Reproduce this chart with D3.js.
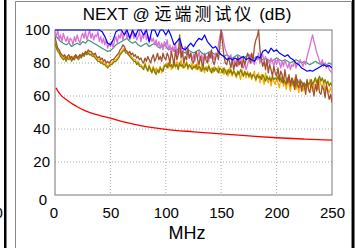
<!DOCTYPE html>
<html>
<head>
<meta charset="utf-8">
<script src="https://cdn.jsdelivr.net/npm/d3@7"></script>
<style>
  body { margin: 0; background: #fff; }
  svg { display: block; font-family: "Liberation Sans", Arial, sans-serif; }
</style>
</head>
<body>
<svg id="chart" width="355" height="248"></svg>
<script>
// sample grids of the measured traces (MHz)
const freqCoarse = d3.range(0, 250.01, 2.5);
const freqFine = d3.range(0, 250.01, 1.25);

// 2.5 MHz grid
const blue = [100,100,100,100,100,100,100,100,100,100,100,100,100,100,100,100,100,99,96,92,
  91,94,99,100,100,97,100,95,100,96,100,100,97,100,93,100,100,96,100,100,
  97,100,96,91,93,95,89,88,90,92,90,93,95,94,97,93,91,89,90,87,
  85,84,82,83,82,83,82,83,84,82,83,82,81,84,83,87,88,86,89,87,
  88,86,85,84,85,83,82,80,79,77,76,75,75.5,75,76,77,78,79,78,78.5,77];

const teal = [97,95,93,92,91,92,90,91,92,91,93,92,94,93,92,91,90,89,88,87,
  87.5,89,91,92,93,94,95,93,92,93,91,90,91,92,90,91,92,90,89,91,
  90,88,89,87,88,89,87,86,88,87,86,87,88,86,85,86,87,86,85,86,
  85,84,85,84,83,84,85,84,83,84,85,84,83,82,83,82,83,82,81,82,
  83,82,81,82,81,80,81,82,81,80,81,80,79,80,81,80,79,80,79,80,79];

// 1.25 MHz grid
const pink = [99,96,100,94,97,93,98,95,93,96,92,95,94,91,96,93,97,94,92,96,
  98,95,99,94,97,100,95,98,94,97,96,99,93,96,92,95,91,94,89,92,
  90,93,89,94,96,92,97,95,99,94,97,100,95,98,94,97,99,95,98,94,
  96,99,93,97,95,100,94,97,92,96,93,95,91,94,90,93,89,92,88,93,
  90,94,88,91,86,90,87,92,85,89,86,91,84,88,90,85,87,83,86,82,
  85,81,86,83,87,82,85,80,86,83,84,81,87,83,85,82,86,84,91,96,
  100,97,92,88,86,84,82,85,80,83,79,82,78,81,84,79,77,80,76,79,
  82,85,80,83,79,84,82,86,80,83,85,81,84,80,82,79,83,81,78,82,
  79,83,80,77,81,78,82,79,77,80,76,79,78,81,77,80,79,82,80,78,
  81,79,84,87,90,94,97,93,90,86,84,81,79,82,78,80,77,79,76,75,
  74];

const orange = [93,90,88,87,85,84,83,84,82,84,83,84,82,84,83,85,84,83,85,84,
  86,85,87,86,87,86,86,85,85,84,83,82,82,81,81,80,80,79,78,79,
  80,80,81,82,82,83,84,86,87,88,89,87,87,86,85,84,83,82,82,80,
  81,79,79,78,77,80,77,76,79,75,76,78,74,77,75,76,78,74,77,79,
  78,80,77,81,76,79,80,77,81,78,79,82,77,80,78,81,76,79,77,80,
  77,79,76,80,78,75,79,77,74,78,76,79,75,77,74,78,76,75,78,74,
  74,77,73,76,75,72,77,74,72,76,73,71,75,73,70,76,72,74,71,75,
  71,74,70,73,75,69,72,74,68,73,71,67,74,70,68,72,66,71,69,67,
  71,68,65,70,72,66,69,64,70,67,63,69,66,71,64,67,62,68,65,63,
  67,64,69,65,70,66,63,68,71,66,64,70,67,65,69,63,66,64,62,65,
  63];

const olive = [92,89,87,86,84,83,82,83,81,83,82,83,81,83,82,84,83,82,84,83,
  85,84,86,85,86,85,85,84,84,83,82,81,81,80,80,79,79,78,77,78,
  79,79,80,81,81,82,83,85,86,87,88,86,86,85,84,83,82,81,81,79,
  80,78,78,77,76,79,77,75,78,76,74,77,75,73,76,74,77,76,75,78,
  79,77,80,78,79,77,80,78,79,76,80,78,79,77,78,80,77,79,78,76,
  78,77,79,76,78,77,75,78,76,77,75,78,76,74,77,75,77,76,74,77,
  76,74,77,75,73,76,74,76,73,75,74,72,75,73,76,74,72,75,73,74,
  72,74,71,73,72,70,73,71,72,70,73,71,69,72,70,71,69,72,70,71,
  70,72,69,71,68,70,69,67,71,69,68,70,67,69,66,70,68,67,69,66,
  68,66,69,67,68,70,67,69,71,68,70,72,69,71,68,70,67,69,66,68,
  66];

const brown = [96,92,89,88,86,85,84,85,83,84,85,83,84,82,84,85,83,84,85,84,
  86,85,87,86,88,87,87,86,85,86,84,83,84,82,83,81,82,80,81,80,
  81,82,82,83,84,85,86,88,89,91,90,88,87,86,87,85,86,84,85,83,
  84,82,83,81,80,83,81,84,82,80,83,85,81,83,86,82,84,81,86,83,
  82,86,84,80,87,83,79,88,82,85,97,83,87,80,84,82,89,83,86,81,
  80,85,87,82,79,84,80,78,85,82,80,86,83,88,81,79,83,86,82,90,
  100,92,84,80,79,83,81,77,82,76,80,78,84,79,81,77,83,79,82,86,
  84,80,86,82,90,94,96,100,88,82,78,81,76,82,74,79,76,72,78,74,
  72,77,70,75,73,68,76,70,68,73,66,71,69,64,73,67,65,70,63,68,
  66,61,70,64,62,68,65,60,67,63,70,62,61,66,64,59,67,62,58,61,
  56];

// limit line
const limitFreq = [1,2,3,4,6,8,10,13,16,20,25,31,40,50,62,75,90,100,125,150,175,200,225,250];
const limitVal = [65,63.6,62.5,61.6,60.1,58.9,57.9,56.4,55.1,53.5,51.7,50.1,48.3,46.6,44.3,42.4,40.7,39.8,38.3,37.0,35.8,34.7,33.9,33.2];

const xTicks = [0, 50, 100, 150, 200, 250];
const yTicks = [0, 20, 40, 60, 80, 100];

const traces = [
  {name: "teal", values: teal, freq: freqCoarse, color: "#3a9a6c", w: 1.2},
  {name: "pink", values: pink, freq: freqFine, color: "#da70d6", w: 1.3},
  {name: "orange", values: orange, freq: freqFine, color: "#ffa500", w: 1.3},
  {name: "olive", values: olive, freq: freqFine, color: "#808000", w: 1.3},
  {name: "brown", values: brown, freq: freqFine, color: "#a0522d", w: 1.3},
  {name: "blue", values: blue, freq: freqCoarse, color: "#0000ff", w: 1.2}
];

const margin = {left: 55, right: 23, top: 30, bottom: 53};
const svg = d3.select("#chart");
const W = +svg.attr("width"), H = +svg.attr("height");
const width = W - margin.left - margin.right;
const height = H - margin.top - margin.bottom;

// surrounding window frame
svg.append("rect").attr("x", 4).attr("y", 0).attr("width", 2.5).attr("height", H).attr("fill", "#000");
svg.append("rect").attr("x", 352).attr("y", 0).attr("width", 2.5).attr("height", H).attr("fill", "#000");
svg.append("path")
  .attr("d", `M15.5,${H} V1.5 H351.5 V${H}`)
  .attr("fill", "none").attr("stroke", "#888").attr("stroke-width", 1);
svg.append("text").text("0")
  .attr("x", -5.5).attr("y", 217.5)
  .attr("font-size", 15).attr("fill", "#000");

const x = d3.scaleLinear().domain([0, 250]).range([0, width]);
const y = d3.scaleLinear().domain([0, 100]).range([height, 0]);

const g = svg.append("g").attr("transform", `translate(${margin.left},${margin.top})`);

g.append("defs").append("clipPath").attr("id", "clip")
  .append("rect").attr("x", 0).attr("y", -1).attr("width", width).attr("height", height + 1);

// dotted grid
g.append("g")
  .selectAll("line")
  .data(xTicks.slice(1, -1))
  .join("line")
  .attr("x1", d => x(d)).attr("x2", d => x(d))
  .attr("y1", 0).attr("y2", height)
  .attr("stroke", "#aaa").attr("stroke-dasharray", "1,2");
g.append("g")
  .selectAll("line")
  .data(yTicks.slice(1, -1))
  .join("line")
  .attr("y1", d => y(d)).attr("y2", d => y(d))
  .attr("x1", 0).attr("x2", width)
  .attr("stroke", "#aaa").attr("stroke-dasharray", "1,2");

// box
g.append("rect")
  .attr("x", 0).attr("y", 0).attr("width", width).attr("height", height)
  .attr("fill", "none").attr("stroke", "#777").attr("stroke-width", 1);

const plot = g.append("g").attr("clip-path", "url(#clip)");
traces.forEach(t => {
  plot.append("path")
    .datum(t.values)
    .attr("fill", "none")
    .attr("stroke", t.color)
    .attr("stroke-width", t.w)
    .attr("stroke-linejoin", "round")
    .attr("d", d3.line()
      .x((d, i) => x(t.freq[i]))
      .y(d => y(d)));
});

plot.append("path")
  .datum(limitVal)
  .attr("fill", "none")
  .attr("stroke", "#ff0000")
  .attr("stroke-width", 1.3)
  .attr("d", d3.line()
    .curve(d3.curveMonotoneX)
    .x((d, i) => x(limitFreq[i]))
    .y(d => y(d)));

const xAxis = g.append("g")
  .attr("transform", `translate(0,${height})`)
  .call(d3.axisBottom(x).tickValues(xTicks).tickSize(0).tickPadding(12));
const yAxis = g.append("g")
  .call(d3.axisLeft(y).tickValues(yTicks).tickSize(0).tickPadding(5));
[xAxis, yAxis].forEach(a => {
  a.select(".domain").remove();
  a.selectAll("text").attr("font-size", 15).attr("fill", "#000")
    .attr("font-family", '"Liberation Sans", Arial, sans-serif');
});
xAxis.selectAll("text").filter(d => d === 0).attr("dx", -1.5);
yAxis.selectAll("text").filter(d => d === 0).attr("dx", -3).attr("dy", "0.65em");

svg.append("text")
  .attr("x", 187).attr("y", 20)
  .attr("text-anchor", "middle")
  .attr("font-size", 17)
  .call(t => {
    t.append("tspan").text("NEXT @ ");
    t.append("tspan").text("远端测试仪")
      .attr("font-family", '"Noto Sans CJK SC", sans-serif')
      .attr("letter-spacing", 3);
    t.append("tspan").text(" (dB)");
  });

svg.append("text")
  .attr("x", 187).attr("y", 239)
  .attr("text-anchor", "middle")
  .attr("font-size", 18)
  .text("MHz");
</script>
</body>
</html>
